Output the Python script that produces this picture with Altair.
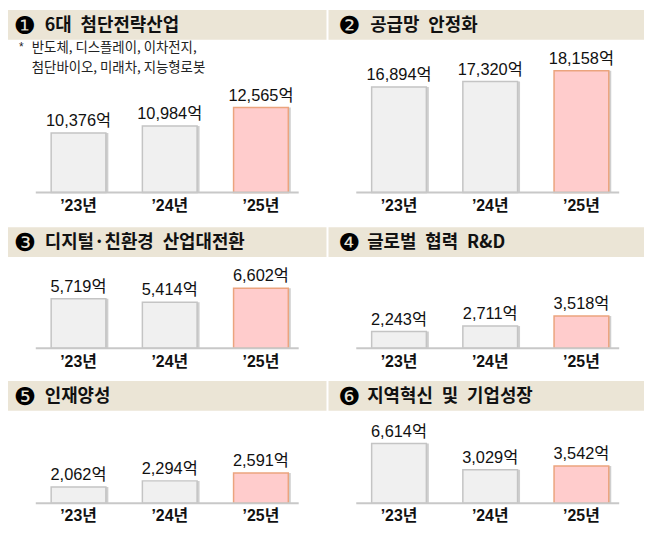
import altair as alt
import pandas as pd

# ---------------- data ----------------
years = ["’23년", "’24년", "’25년"]
highlight = ["past", "past", "now"]
numbers = ["❶", "❷", "❸", "❹", "❺", "❻"]
titles = [
    "6대\u2002첨단전략산업",
    "공급망\u2002안정화",
    "디지털·친환경\u2002산업대전환",
    "글로벌\u2002협력\u2002R&D",
    "인재양성",
    "지역혁신\u2002및\u2002기업성장",
]
strategic_industry = [10376, 10984, 12565]
supply_chain = [16894, 17320, 18158]
digital_green = [5719, 5414, 6602]
global_rnd = [2243, 2711, 3518]
talent = [2062, 2294, 2591]
regional = [6614, 3029, 3542]
values = [strategic_industry, supply_chain, digital_green, global_rnd, talent, regional]
note_lines = ["반도체, 디스플레이, 이차전지,", "첨단바이오, 미래차, 지능형로봇"]

# infographic-style (non zero based) value axes: lower bound and units per pixel
scale_min = [5223, 8648, 1490, 866, 1457, -1500]
units_px = [85.7, 77.5, 84.5, 81.6, 37.3, 135.0]

KFONT = "Noto Sans CJK KR"
NFONT = "Liberation Sans, Noto Sans CJK KR"
one = pd.DataFrame({"a": [0]})


def panel(i, W, H, num_x, title_x):
    vals = values[i]
    df = pd.DataFrame({
        "year": years,
        "value": vals,
        "label": [f"{v:,}억" for v in vals],
        "hl": highlight,
    })
    lo = scale_min[i]
    hi = lo + units_px[i] * H
    xs = alt.X(
        "year:N", sort=years,
        scale=alt.Scale(range=[43.5, 282.5], paddingInner=0.4, paddingOuter=0),
        axis=alt.Axis(title=None, domain=False, ticks=False, labelAngle=0,
                      labelFont=NFONT, labelFontSize=16, labelFontWeight="bold",
                      labelColor="#111111", labelPadding=5),
    )
    ys = alt.Y("value:Q", scale=alt.Scale(domain=[lo, hi], nice=False, zero=False), axis=None)
    base = alt.Chart(df)

    header = alt.Chart(one).mark_rect(color="#ebe5d6").encode(
        x=alt.value(0), x2=alt.value(W), y=alt.value(0), y2=alt.value(30))
    num = alt.Chart(one).mark_text(
        text=numbers[i], font="DejaVu Sans", fontSize=25, align="center",
        baseline="middle", color="#000000").encode(x=alt.value(num_x), y=alt.value(16))
    title = alt.Chart(one).mark_text(
        text=titles[i], font=KFONT, fontWeight="bold", fontSize=18, align="left",
        baseline="middle", color="#111111").encode(x=alt.value(title_x), y=alt.value(16))

    shadow = base.mark_bar(color="#cfcfcf", xOffset=2.5).encode(x=xs, y=ys, y2=alt.datum(lo))
    bars = base.mark_bar(strokeWidth=1.5).encode(
        x=xs, y=ys, y2=alt.datum(lo),
        fill=alt.Fill("hl:N", scale=alt.Scale(domain=["past", "now"], range=["#f0f0f0", "#ffcccc"]), legend=None),
        stroke=alt.Stroke("hl:N", scale=alt.Scale(domain=["past", "now"], range=["#c4c4c4", "#eba47e"]), legend=None),
    )
    labels = base.mark_text(font=NFONT, fontSize=16.5, color="#111111", baseline="alphabetic", dy=-7).encode(
        x=xs, y=ys, text="label:N")
    rule = alt.Chart(one).mark_rule(color="#c8c8c8", strokeWidth=2).encode(
        x=alt.value(28), x2=alt.value(293), y=alt.datum(lo))

    layers = [header, num, title]
    if i == 0:
        star = alt.Chart(one).mark_text(text="*", font=NFONT, fontSize=12, align="left",
                                        baseline="middle", color="#222222").encode(
            x=alt.value(11), y=alt.value(37))
        l1 = alt.Chart(one).mark_text(text=note_lines[0], font=KFONT, fontSize=13.5, align="left",
                                      baseline="middle", color="#222222").encode(
            x=alt.value(24), y=alt.value(38.5))
        l2 = alt.Chart(one).mark_text(text=note_lines[1], font=KFONT, fontSize=13.5, align="left",
                                      baseline="middle", color="#222222").encode(
            x=alt.value(24), y=alt.value(58.5))
        layers += [star, l1, l2]
    layers += [shadow, bars, labels, rule]
    return alt.layer(*layers).properties(width=W, height=H)


row1 = alt.hconcat(panel(0, 321, 184, 17, 37), panel(1, 318, 184, 21, 42), spacing=2)
row2 = alt.hconcat(panel(2, 321, 122, 17, 37), panel(3, 318, 122, 21, 39), spacing=2)
row3 = alt.hconcat(panel(4, 321, 123, 17, 37), panel(5, 318, 123, 21, 39), spacing=2)

chart = alt.vconcat(row1, alt.vconcat(row2, row3, spacing=12), spacing=14).properties(
    padding=0, background="white"
).configure_view(strokeWidth=0)

chart.save("out.html", embed_options={"renderer": "svg", "actions": False})
